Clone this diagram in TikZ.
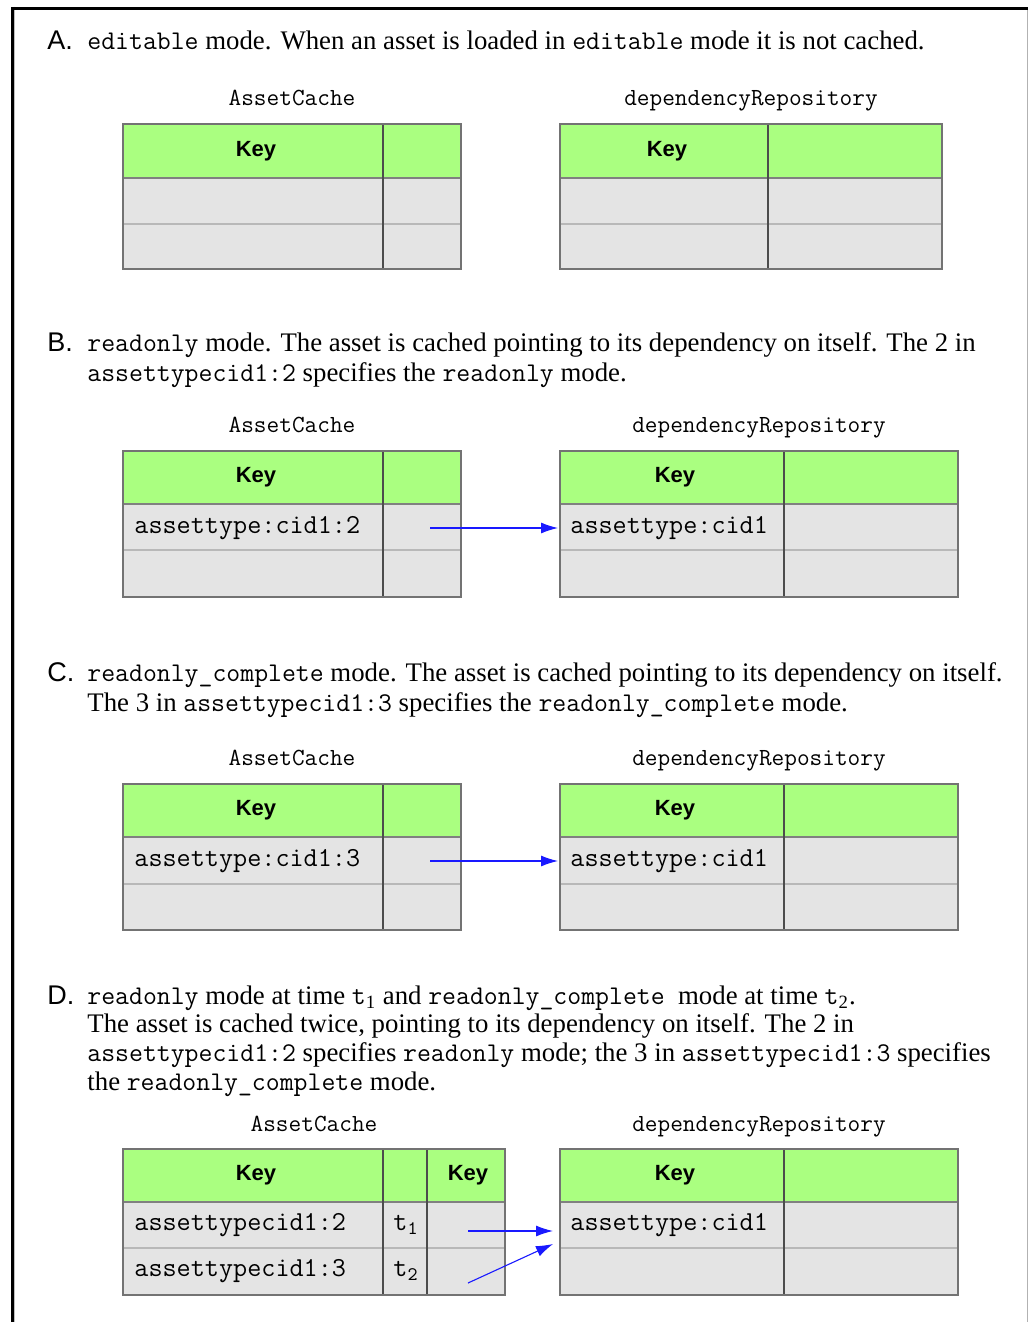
\documentclass[tikz,border=0pt]{standalone}
\usepackage{fontspec}
\setmainfont{Liberation Serif}
\newfontfamily\sansf{Liberation Sans}
\usetikzlibrary{arrows.meta}
\definecolor{hdrgreen}{RGB}{170,255,128}
\definecolor{cellgray}{RGB}{228,228,228}
\definecolor{arrowblue}{RGB}{25,25,255}
\newcommand\code[1]{{\fontsize{13.5}{15}\selectfont\ttfamily #1}}
\newcommand\mkcell[6]{\node[#2, anchor=north west, minimum width={(#5-#3)*0.5pt}, minimum height={(#6-#4)*0.5pt}] (#1) at (#3,#4) {};}
\newcommand\twotab[8]{%
  \mkcell{#1h1}{hdr}{#2}{#5}{#3}{#6}
  \mkcell{#1h2}{hdr}{#3}{#5}{#4}{#6}
  \mkcell{#1a1}{gcell}{#2}{#6}{#3}{#7}
  \mkcell{#1a2}{gcell}{#3}{#6}{#4}{#7}
  \mkcell{#1b1}{gcell}{#2}{#7}{#3}{#8}
  \mkcell{#1b2}{gcell}{#3}{#7}{#4}{#8}
  \draw[rowline] (#1a1.south west) -- (#1a2.south east);
  \draw[hdrline] (#1h1.south west) -- (#1h2.south east);
  \draw[colline] (#1h1.north east) -- (#1b1.south east);
  \draw[frameline] (#1h1.north west) rectangle (#1b2.south east);
  \node[keytext] (#1key) at ([xshift=1.5pt]#1h1.center) {Key};
}
\begin{document}
\begin{tikzpicture}[x=0.5pt,y=-0.5pt,
  hdr/.style={rectangle, fill=hdrgreen, draw=none, inner sep=0pt, outer sep=0pt},
  gcell/.style={rectangle, fill=cellgray, draw=none, inner sep=0pt, outer sep=0pt},
  rowline/.style={draw=black!28, line width=0.9pt},
  hdrline/.style={draw=black!50, line width=0.9pt},
  colline/.style={draw=black!70, line width=0.7pt},
  frameline/.style={draw=black!55, line width=0.9pt},
  keytext/.style={font=\sansf\bfseries\fontsize{11}{13}\selectfont, inner sep=0pt},
  seclab/.style={font=\sansf\fontsize{13.5}{15}\selectfont, anchor=base west, inner sep=0pt},
  body/.style={font=\fontsize{13.4}{15}\selectfont, anchor=base west, inner sep=0pt},
  tlabel/.style={font=\ttfamily\fontsize{12.3}{14}\selectfont, anchor=base, inner sep=0pt},
  celltext/.style={font=\ttfamily\fontsize{13.7}{15}\selectfont, anchor=base west, inner sep=0pt},
  arr/.style={draw=arrowblue, line width=0.55pt, -{Latex[length=8.5pt,width=5.5pt]}}
]
\useasboundingbox (0,0) rectangle (1029,1322);
\fill[white] (0,0) rectangle (1029,1322);
% frame
\draw[line width=1.5pt] (11,8.5) -- (1028,8.5);
\draw[line width=2pt] (13,7) -- (13,1322);
\draw[black!25, line width=0.5pt] (14.5,10) -- (14.5,1322);
\draw[black!30, line width=0.6pt] (1027.5,10) -- (1027.5,1322);

% ---------- A ----------
\node[seclab] (labA) at (47,50) {A.};
\node[body] (txtA) at (87,50) {\code{editable} mode. When an asset is loaded in \code{editable} mode it is not cached.};
\node[tlabel] (lA1) at (292,105) {AssetCache};
\node[tlabel] (lA2) at (751,105) {dependencyRepository};
\twotab{ta}{123}{383}{461}{124}{178}{224}{269}
\twotab{tb}{560}{768}{942}{124}{178}{224}{269}

% ---------- B ----------
\node[seclab] (labB) at (47,351) {B.};
\node[body] (txtB1) at (87,351) {\code{readonly} mode. The asset is cached pointing to its dependency on itself. The 2 in};
\node[body] (txtB2) at (87,381) {\code{assettypecid1:2} specifies the \code{readonly} mode.};
\node[tlabel] (lB1) at (292,432) {AssetCache};
\node[tlabel] (lB2) at (759,432) {dependencyRepository};
\twotab{ba}{123}{383}{461}{451}{504}{550}{597}
\twotab{bb}{560}{784}{958}{451}{504}{550}{597}
\node[celltext] (bat) at (134,533) {assettype:cid1:2};
\node[celltext] (bbt) at (570,533) {assettype:cid1};
\coordinate (bs) at (430,528);
\draw[arr, shorten >=1pt] (bs) -- (bs -| bba1.west);

% ---------- C ----------
\node[seclab] (labC) at (47,681) {C.};
\node[body] (txtC1) at (87,681) {\code{readonly\_complete} mode. The asset is cached pointing to its dependency on itself.};
\node[body] (txtC2) at (87,711) {The 3 in \code{assettypecid1:3} specifies the \code{readonly\_complete} mode.};
\node[tlabel] (lC1) at (292,765) {AssetCache};
\node[tlabel] (lC2) at (759,765) {dependencyRepository};
\twotab{ca}{123}{383}{461}{784}{837}{884}{930}
\twotab{cb}{560}{784}{958}{784}{837}{884}{930}
\node[celltext] (cat) at (134,866) {assettype:cid1:3};
\node[celltext] (cbt) at (570,866) {assettype:cid1};
\coordinate (cs) at (430,861);
\draw[arr, shorten >=1pt] (cs) -- (cs -| cba1.west);

% ---------- D ----------
\node[seclab] (labD) at (47,1004) {D.};
\node[body] (txtD1) at (87,1004) {\code{readonly} mode at time \code{t}\textsubscript{1} and \code{readonly\_complete}\ \ mode at time \code{t}\textsubscript{2}.};
\node[body] (txtD2) at (87,1032) {The asset is cached twice, pointing to its dependency on itself. The 2 in};
\node[body] (txtD3) at (87,1061) {\code{assettypecid1:2} specifies \code{readonly} mode; the 3 in \code{assettypecid1:3} specifies};
\node[body] (txtD4) at (87,1090) {the \code{readonly\_complete} mode.};
\node[tlabel] (lD1) at (314,1131) {AssetCache};
\node[tlabel] (lD2) at (759,1131) {dependencyRepository};
% D left table (three columns)
\mkcell{dh1}{hdr}{123}{1149}{383}{1202}
\mkcell{dh2}{hdr}{383}{1149}{427}{1202}
\mkcell{dh3}{hdr}{427}{1149}{505}{1202}
\mkcell{da1}{gcell}{123}{1202}{383}{1248}
\mkcell{da2}{gcell}{383}{1202}{427}{1248}
\mkcell{da3}{gcell}{427}{1202}{505}{1248}
\mkcell{db1}{gcell}{123}{1248}{383}{1295}
\mkcell{db2}{gcell}{383}{1248}{427}{1295}
\mkcell{db3}{gcell}{427}{1248}{505}{1295}
\draw[rowline] (da1.south west) -- (da3.south east);
\draw[hdrline] (dh1.south west) -- (dh3.south east);
\draw[colline] (dh1.north east) -- (db1.south east);
\draw[colline] (dh2.north east) -- (db2.south east);
\draw[frameline] (dh1.north west) rectangle (db3.south east);
\node[keytext] (dk1) at ([xshift=1.5pt]dh1.center) {Key};
\node[keytext] (dk3) at ([xshift=1pt]dh3.center) {Key};
\node[celltext] (dat) at (134,1230) {assettypecid1:2};
\node[celltext] (dbt) at (134,1276) {assettypecid1:3};
\node[celltext, anchor=base] (dat2) at (406,1230) {t\textsubscript{1}};
\node[celltext, anchor=base] (dbt2) at (406,1276) {t\textsubscript{2}};
\twotab{db}{560}{784}{958}{1149}{1202}{1248}{1295}
\node[celltext] (dbbt) at (570,1230) {assettype:cid1};
\coordinate (ds1) at (468,1231);
\coordinate (ds2) at (468,1283);
\draw[arr] (ds1) -- ([shift={(-7,6)}]dba1.west);
\draw[arr] (ds2) -- ([shift={(-7,19)}]dba1.west);
\end{tikzpicture}
\end{document}
